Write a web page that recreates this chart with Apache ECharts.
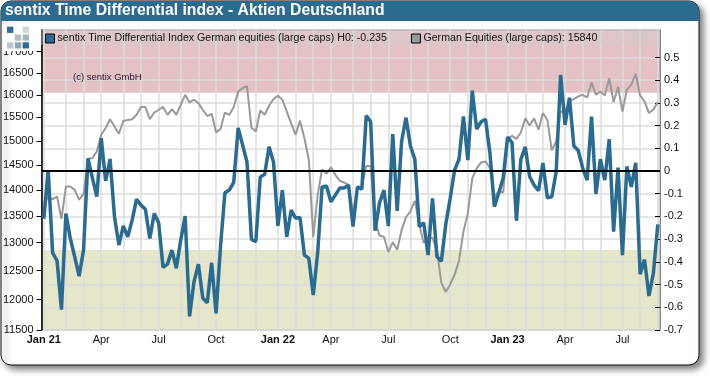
<!DOCTYPE html>
<html>
<head>
<meta charset="utf-8">
<style>html,body{margin:0;padding:0;background:#fff}#chart{width:710px;height:376px}</style>
<script src="https://cdn.jsdelivr.net/npm/echarts@6/dist/echarts.min.js"></script>
</head>
<body>
<div id="chart"></div>
<script>
const weeks = [
  '2021-01-01','2021-01-08','2021-01-15','2021-01-22','2021-01-29','2021-02-05','2021-02-12','2021-02-19','2021-02-26',
  '2021-03-05','2021-03-12','2021-03-19','2021-03-26','2021-04-02','2021-04-09','2021-04-16','2021-04-23','2021-04-30',
  '2021-05-07','2021-05-14','2021-05-21','2021-05-28','2021-06-04','2021-06-11','2021-06-18','2021-06-25',
  '2021-07-02','2021-07-09','2021-07-16','2021-07-23','2021-07-30','2021-08-06','2021-08-13','2021-08-20','2021-08-27',
  '2021-09-03','2021-09-10','2021-09-17','2021-09-24','2021-10-01','2021-10-08','2021-10-15','2021-10-22','2021-10-29',
  '2021-11-05','2021-11-12','2021-11-19','2021-11-26','2021-12-03','2021-12-10','2021-12-17','2021-12-24','2021-12-31',
  '2022-01-07','2022-01-14','2022-01-21','2022-01-28','2022-02-04','2022-02-11','2022-02-18','2022-02-25',
  '2022-03-04','2022-03-11','2022-03-18','2022-03-25','2022-04-01','2022-04-08','2022-04-15','2022-04-22','2022-04-29',
  '2022-05-06','2022-05-13','2022-05-20','2022-05-27','2022-06-03','2022-06-10','2022-06-17','2022-06-24',
  '2022-07-01','2022-07-08','2022-07-15','2022-07-22','2022-07-29','2022-08-05','2022-08-12','2022-08-19','2022-08-26',
  '2022-09-02','2022-09-09','2022-09-16','2022-09-23','2022-09-30','2022-10-07','2022-10-14','2022-10-21','2022-10-28',
  '2022-11-04','2022-11-11','2022-11-18','2022-11-25','2022-12-02','2022-12-09','2022-12-16','2022-12-23','2022-12-30',
  '2023-01-06','2023-01-13','2023-01-20','2023-01-27','2023-02-03','2023-02-10','2023-02-17','2023-02-24',
  '2023-03-03','2023-03-10','2023-03-17','2023-03-24','2023-03-31','2023-04-07','2023-04-14','2023-04-21','2023-04-28',
  '2023-05-05','2023-05-12','2023-05-19','2023-05-26','2023-06-02','2023-06-09','2023-06-16','2023-06-23','2023-06-30',
  '2023-07-07','2023-07-14','2023-07-21','2023-07-28','2023-08-04','2023-08-11','2023-08-18','2023-08-25','2023-09-01'
];
const timeDiff = [
  -0.21,0.004,-0.36,-0.395,-0.61,-0.187,-0.297,-0.378,-0.463,-0.348,
  0.056,-0.03,-0.113,0.145,-0.043,0.053,-0.2,-0.326,-0.242,-0.29,
  -0.216,-0.124,-0.15,-0.168,-0.297,-0.187,-0.228,-0.424,-0.41,-0.348,
  -0.428,-0.304,-0.198,-0.64,-0.488,-0.41,-0.56,-0.58,-0.404,-0.627,
  -0.333,-0.096,-0.084,-0.05,0.19,0.115,0.04,-0.3,-0.311,-0.027,
  -0.014,0.107,0.04,-0.242,-0.084,-0.29,-0.172,-0.207,-0.204,-0.37,
  -0.385,-0.546,-0.36,-0.07,-0.066,-0.135,-0.106,-0.075,-0.075,-0.062,
  -0.245,-0.07,-0.08,0.244,0.217,-0.263,-0.14,-0.084,-0.242,0.163,
  -0.176,0.13,0.235,0.11,0.052,-0.245,-0.228,-0.37,-0.12,-0.377,
  -0.397,-0.235,-0.12,0.004,0.052,0.24,0.048,0.354,0.185,0.217,
  0.228,0.079,-0.157,-0.097,-0.03,0.15,0.125,-0.219,0.052,0.106,
  -0.025,-0.062,-0.087,0.035,-0.118,-0.113,-0.003,0.423,0.203,0.323,
  0.11,0.09,0.013,-0.04,0.24,-0.101,0.052,-0.04,0.14,-0.267,
  0.015,-0.37,0.02,-0.07,0.036,-0.454,-0.39,-0.55,-0.45,-0.235
];
const equities = [
  13740,13850,13820,13870,13440,14066,14066,14000,13808,13923,
  14619,14640,14777,15128,15270,15460,15304,15149,15425,15445,
  15460,15557,15730,15730,15460,15606,15667,15730,15557,15683,
  15557,15780,16000,15830,15890,15815,15667,15530,15578,15178,
  15250,15606,15557,15730,16075,16155,16190,15283,15198,15650,
  15557,15755,15905,15978,15890,15630,15370,15128,15430,15057,
  14604,13100,13900,14410,14320,14450,14300,14180,14146,14100,
  13520,14040,14060,14480,14480,13420,13130,13110,12830,13010,
  12870,13230,13475,13583,13790,13335,12995,13085,13085,12850,
  12290,12130,12260,12430,12675,13205,13550,14235,14430,14550,
  14570,14440,13870,13970,13950,15020,15105,15040,15175,15480,
  15325,15480,15235,15595,15445,14800,14985,15630,15630,15855,
  15905,15965,16000,15940,16280,16000,16075,15985,16375,15840,
  16175,15630,16115,16230,16480,15985,15855,15595,15667,15840
];
const equityTicks = [11500,12000,12500,13000,13500,14000,14500,15000,15500,16000,16500,17000];
const diffTicks = [-0.7,-0.6,-0.5,-0.4,-0.3,-0.2,-0.1,0,0.1,0.2,0.3,0.4,0.5];
const monthNames = ['Jan','Feb','Mar','Apr','May','Jun','Jul','Aug','Sep','Oct','Nov','Dec'];
const diffName = 'sentix Time Differential Index German equities (large caps) H0: -0.235';
const equityName = 'German Equities (large caps): 15840';
const blue = '#2a6b8f';
const font = '"Liberation Sans", Arial, sans-serif';

function isMonthStart(i) {
  return Number(weeks[i].slice(8)) <= 7;
}
function isQuarterStart(i) {
  return isMonthStart(i) && (Number(weeks[i].slice(5, 7)) - 1) % 3 === 0;
}

const chart = echarts.init(document.getElementById('chart'), null, { renderer: 'canvas' });

// logo squares, col/row/colour
const logo = [
  [0, 0, '#2e6c92'], [2, 0, '#cfd8dc'],
  [1, 1, '#b4bec4'], [2, 1, '#a9b5bc'],
  [0, 2, '#b9c7d0'], [1, 2, '#8fa6b4'], [2, 2, '#2e6c92']
];

const option = {
  animation: false,
  backgroundColor: '#fff',
  textStyle: { fontFamily: font },
  title: [{
    text: 'sentix Time Differential index - Aktien Deutschland',
    left: 5, top: 1, padding: 0,
    textStyle: { color: '#fff', fontSize: 15.75, fontWeight: 'bold', fontFamily: font, lineHeight: 20 }
  }, {
    text: '(c) sentix GmbH',
    left: 73, top: 72, padding: 0,
    textStyle: { color: '#301030', fontSize: 9.5, fontWeight: 'normal', fontFamily: font }
  }],
  legend: {
    left: 45, top: 33,
    padding: 0,
    itemWidth: 9, itemHeight: 9, itemGap: 24,
    icon: 'rect',
    itemStyle: { borderColor: '#000', borderWidth: 1 },
    textStyle: { fontSize: 10.65, color: '#111', fontFamily: font, padding: [0, 0, 0, -2] },
    data: [{ name: diffName }, { name: equityName }],
    selectedMode: false
  },
  grid: {
    left: 41, right: 50, top: 30, bottom: 46,
    show: true, backgroundColor: 'transparent', borderColor: '#999', borderWidth: 1
  },
  xAxis: {
    type: 'category',
    data: weeks,
    boundaryGap: true,
    axisLine: { lineStyle: { color: '#888', width: 1 } },
    axisTick: { alignWithLabel: true, length: 3, interval: i => isQuarterStart(i), lineStyle: { color: '#000' } },
    axisLabel: {
      interval: i => isQuarterStart(i),
      margin: 4,
      fontSize: 11,
      color: '#111',
      hideOverlap: false,
      showMinLabel: true,
      formatter: v => {
        const m = Number(v.slice(5, 7)) - 1;
        return m === 0 ? '{b|Jan ' + v.slice(2, 4) + '}' : monthNames[m];
      },
      rich: { b: { fontWeight: 'bold', fontSize: 11, color: '#111', fontFamily: font } }
    },
    splitLine: { show: true, alignWithLabel: true, interval: i => isMonthStart(i), lineStyle: { color: '#dcdcdc', width: 1.5 } }
  },
  yAxis: [{
    type: 'log',
    logBase: 10,
    min: 11500,
    max: 17524,
    position: 'left',
    axisLine: { show: true, lineStyle: { color: '#000', width: 1.5 } },
    axisTick: { show: true, length: 5, customValues: equityTicks, lineStyle: { color: '#000' } },
    axisLabel: { customValues: equityTicks, margin: 8, fontSize: 11, color: '#111', formatter: v => String(v) },
    splitLine: { show: false },
    minorTick: { show: false },
    minorSplitLine: { show: false }
  }, {
    type: 'value',
    min: -0.7,
    max: 0.621,
    interval: 0.1,
    position: 'right',
    axisLine: { show: true, lineStyle: { color: '#888', width: 1 } },
    axisTick: { show: true, inside: true, length: 5, customValues: diffTicks, lineStyle: { color: '#000' } },
    axisLabel: { customValues: diffTicks, margin: 4, fontSize: 11, color: '#111' },
    splitLine: { show: true, lineStyle: { color: '#dcdcdc', width: 1.5 } }
  }],
  series: [{
    name: equityName,
    type: 'line',
    yAxisIndex: 0,
    data: equities,
    showSymbol: false,
    symbol: 'none',
    itemStyle: { color: '#999' },
    lineStyle: { color: '#999', width: 2 },
    z: 3
  }, {
    name: diffName,
    type: 'line',
    yAxisIndex: 1,
    data: timeDiff,
    showSymbol: false,
    symbol: 'none',
    itemStyle: { color: blue },
    lineStyle: { color: blue, width: 3.5 },
    z: 4,
    markArea: {
      silent: true,
      z: -1,
      data: [
        [{ yAxis: 0.345, itemStyle: { color: '#e3c1c4' } }, { yAxis: 0.621 }],
        [{ yAxis: -0.7, itemStyle: { color: '#e6e6cb' } }, { yAxis: -0.348 }]
      ]
    },
    markLine: {
      silent: true,
      symbol: 'none',
      label: { show: false },
      lineStyle: { color: '#000', width: 2, type: 'solid' },
      data: [{ yAxis: 0 }]
    }
  }],
  graphic: [
    { type: 'rect', z: -10, shape: { x: 1, y: 1, width: 698, height: 364, r: 10 },
      style: { fill: '#fff', stroke: '#111', lineWidth: 1, shadowBlur: 6, shadowColor: 'rgba(0,0,0,0.5)', shadowOffsetX: 4, shadowOffsetY: 4 } },
    { type: 'rect', z: -9, shape: { x: 1, y: 1, width: 698, height: 20, r: [10, 10, 0, 0] }, style: { fill: blue } },
    // lighter strip behind the legend
    { type: 'rect', z: 1, silent: true, shape: { x: 41, y: 30, width: 619, height: 15 }, style: { fill: 'rgba(210,210,210,0.35)' } },
    // the logo box hides the top axis label
    { type: 'rect', z: 50, shape: { x: 3, y: 24, width: 34, height: 27 }, style: { fill: '#fff' } }
  ].concat(logo.map(s => ({
    type: 'rect', z: 51,
    shape: { x: 7 + s[0] * 7.8, y: 26.7 + s[1] * 7.8, width: 6.4, height: 6.2 },
    style: { fill: s[2] }
  })))
};

chart.setOption(option);
</script>
</body>
</html>
